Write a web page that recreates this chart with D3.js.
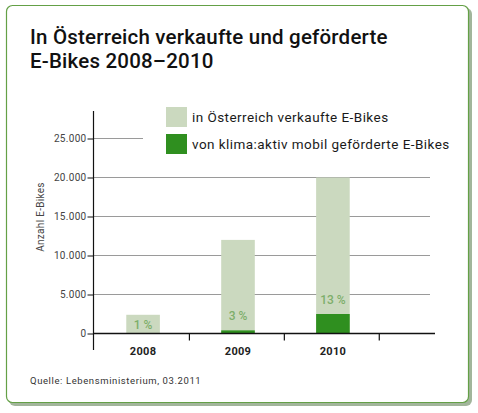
<!DOCTYPE html>
<meta charset="utf-8">
<style>
    html, body { margin: 0; padding: 0; background: #fff; }
    text { font-family: Roboto, "DejaVu Sans", sans-serif; }
</style>
<script src="https://d3js.org/d3.v7.min.js"></script>

<div id="chart"></div>

<script>
    // data
    const years = ["2008", "2009", "2010"];
    const sold = [2400, 12000, 20000];        // in Österreich verkaufte E-Bikes
    const funded = [25, 400, 2500];           // von klima:aktiv mobil geförderte E-Bikes
    const shares = ["1 %", "3 %", "13 %"];
    const yTicks = [0, 5000, 10000, 15000, 20000, 25000];
    const legendLabels = ["in Österreich verkaufte E-Bikes", "von klima:aktiv mobil geförderte E-Bikes"];

    const W = 478, H = 413;
    const colLight = "#cbd9bf", colDark = "#2f8f1f";

    const de = d3.formatLocale({decimal: ",", thousands: ".", grouping: [3], currency: ["", "€"]});
    const fmt = de.format(",");

    const svg = d3.select("#chart")
      .append("svg")
        .attr("width", W)
        .attr("height", H);

    // frame with shadow
    svg.append("rect")
        .attr("x", 9).attr("y", 8).attr("width", 463).attr("height", 398)
        .attr("rx", 6).attr("fill", "#a2b59b");
    svg.append("rect")
        .attr("x", 6.5).attr("y", 5.5).attr("width", 462).attr("height", 397)
        .attr("rx", 6).attr("fill", "#fff")
        .attr("stroke", "#64a046").attr("stroke-width", 1.2);

    // title
    const title = svg.append("text")
        .attr("x", 30).attr("y", 44)
        .attr("font-size", 20.5).attr("font-weight", 500).attr("fill", "#111")
        .attr("letter-spacing", 0.2);
    title.append("tspan").attr("x", 30).text("In Österreich verkaufte und geförderte");
    title.append("tspan").attr("x", 30).attr("dy", 24).text("E-Bikes 2008–2010");

    // scales
    const x = d3.scaleBand()
        .domain(years)
        .range([94, 382])
        .paddingInner(0.646)
        .paddingOuter(0.34);
    const y = d3.scaleLinear()
        .domain([0, 25000])
        .range([333.5, 138.5]);

    // gridlines
    svg.append("g")
      .selectAll("line")
      .data(yTicks.filter(d => d > 0))
      .join("line")
        .attr("x1", 94)
        .attr("x2", d => d === 25000 ? 143 : 430)
        .attr("y1", d => y(d)).attr("y2", d => y(d))
        .attr("stroke", "#9a9a9a").attr("stroke-width", 1);

    // bars
    svg.append("g")
      .selectAll("rect")
      .data(years)
      .join("rect")
        .attr("x", d => x(d))
        .attr("y", (d, i) => y(sold[i]))
        .attr("width", x.bandwidth())
        .attr("height", (d, i) => y(0) - y(sold[i]))
        .attr("fill", colLight);
    svg.append("g")
      .selectAll("rect")
      .data(years)
      .join("rect")
        .attr("x", d => x(d))
        .attr("y", (d, i) => y(funded[i]))
        .attr("width", x.bandwidth())
        .attr("height", (d, i) => y(0) - y(funded[i]))
        .attr("fill", colDark);

    // share labels: centred in a short bar, otherwise just above the green part
    svg.append("g")
      .selectAll("text")
      .data(years)
      .join("text")
        .attr("x", d => x(d) + x.bandwidth() / 2)
        .attr("y", (d, i) => sold[i] < 5000 ? (y(sold[i]) + y(0)) / 2 + 4.5 : y(funded[i]) - 10)
        .attr("text-anchor", "middle")
        .attr("font-size", 12).attr("font-weight", 500)
        .attr("fill", "#7dae6a")
        .text((d, i) => shares[i]);

    // y axis
    const yAxis = svg.append("g")
        .attr("transform", "translate(93.5,0)")
        .call(d3.axisLeft(y).tickValues(yTicks).tickFormat(fmt).tickSize(6).tickPadding(1));
    yAxis.select(".domain").remove();
    yAxis.selectAll(".tick line").attr("stroke", "#111");
    yAxis.selectAll(".tick text").attr("font-size", 10).attr("fill", "#444")
        .attr("font-family", "Roboto, sans-serif").attr("letter-spacing", 0.3);
    svg.append("line")
        .attr("x1", 93.5).attr("x2", 93.5).attr("y1", 111).attr("y2", 350)
        .attr("stroke", "#111").attr("stroke-width", 1.2);

    // x axis
    svg.append("line")
        .attr("x1", 93.5).attr("x2", 435).attr("y1", y(0)).attr("y2", y(0))
        .attr("stroke", "#111").attr("stroke-width", 1.4);
    svg.append("g")
      .selectAll("line")
      .data(years)
      .join("line")
        .attr("x1", d => x(d) + x.step() * (1 - x.paddingOuter()) + 0.5)
        .attr("x2", d => x(d) + x.step() * (1 - x.paddingOuter()) + 0.5)
        .attr("y1", y(0)).attr("y2", y(0) + 7)
        .attr("stroke", "#111").attr("stroke-width", 1.2);
    svg.append("g")
      .selectAll("text")
      .data(years)
      .join("text")
        .attr("x", d => x(d) + x.bandwidth() / 2)
        .attr("y", 355)
        .attr("text-anchor", "middle")
        .attr("font-size", 11).attr("font-weight", 700)
        .attr("fill", "#222").attr("letter-spacing", 0.3)
        .text(d => d);

    // y label
    svg.append("text")
        .attr("transform", "translate(44,217) rotate(-90)")
        .attr("text-anchor", "middle")
        .attr("font-size", 10).attr("fill", "#444")
        .attr("letter-spacing", 0.3)
        .text("Anzahl E-Bikes");

    // legend
    const legend = svg.append("g")
      .selectAll("g")
      .data(legendLabels)
      .join("g")
        .attr("transform", (d, i) => `translate(166,${107 + i * 27})`);
    legend.append("rect")
        .attr("width", 21).attr("height", 20)
        .attr("fill", (d, i) => i === 0 ? colLight : colDark);
    legend.append("text")
        .attr("x", 26).attr("y", 15)
        .attr("font-size", 13.5).attr("fill", "#1a1a1a")
        .attr("letter-spacing", 0.45)
        .text(d => d);

    // source
    svg.append("text")
        .attr("x", 30).attr("y", 384)
        .attr("font-size", 9.5).attr("fill", "#333")
        .attr("letter-spacing", 0.6)
        .text("Quelle: Lebensministerium, 03.2011");
</script>
